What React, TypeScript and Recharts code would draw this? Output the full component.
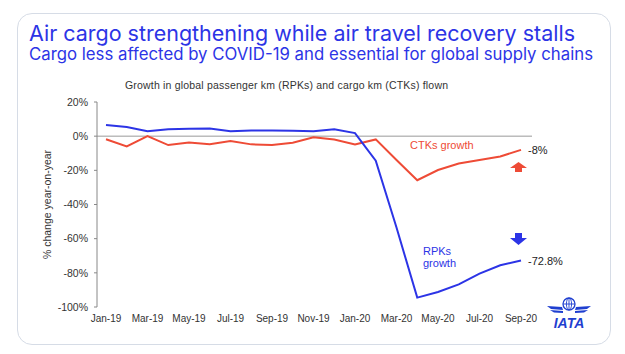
import { LineChart, Line, XAxis, YAxis, ReferenceLine, LabelList } from 'recharts';

const months = [
  'Jan-19', 'Feb-19', 'Mar-19', 'Apr-19', 'May-19', 'Jun-19', 'Jul-19', 'Aug-19', 'Sep-19', 'Oct-19', 'Nov-19', 'Dec-19',
  'Jan-20', 'Feb-20', 'Mar-20', 'Apr-20', 'May-20', 'Jun-20', 'Jul-20', 'Aug-20', 'Sep-20',
];
const rpkGrowth = [6.5, 5.3, 2.9, 4.1, 4.3, 4.5, 2.9, 3.3, 3.3, 3.1, 2.9, 4.1, 1.8, -14.3, -53.5, -94.5, -91.2, -86.8, -80.5, -75.6, -72.8];
const ctkGrowth = [-1.8, -6.0, 0.0, -5.2, -3.7, -4.7, -2.9, -4.8, -5.2, -3.8, -0.6, -2.0, -4.9, -1.9, -14.0, -25.8, -19.8, -16.0, -13.9, -11.9, -8.0];
const yTicks = [20, 0, -20, -40, -60, -80, -100];
const endLabels = { rpk: '-72.8%', ctk: '-8%' };

const data = months.map((m, i) => ({ month: m, rpk: rpkGrowth[i], ctk: ctkGrowth[i] }));

const BLUE = '#2c34e6';
const RED = '#ee4b36';
const FONT = '"Liberation Sans", Arial, sans-serif';

const endLabel = (text: string) => (props: any) => {
  const { x, y, index } = props;
  if (index !== data.length - 1) return null;
  return (
    <text x={x + 7} y={y + 4} fontSize={11} fill="#222" fontFamily={FONT}>
      {text}
    </text>
  );
};

export default function App() {
  return (
    <div style={{ position: 'absolute', left: 0, top: 0, width: 625, height: 354, background: '#fff', fontFamily: FONT }}>
      <div
        style={{
          position: 'absolute', left: 17, top: 13, width: 592, height: 330,
          border: '1px solid #d6dce6', borderRadius: 15,
        }}
      />
      <svg style={{ position: 'absolute', left: 0, top: 0 }} width={625} height={100}>
        <text x={29} y={41} fill={BLUE} fontFamily="Inter, sans-serif" fontSize={21.5} textLength={546} lengthAdjust="spacingAndGlyphs">
          Air cargo strengthening while air travel recovery stalls
        </text>
        <text x={29} y={60} fill={BLUE} fontFamily="Inter, sans-serif" fontSize={16.8} textLength={564} lengthAdjust="spacingAndGlyphs">
          Cargo less affected by COVID-19 and essential for global supply chains
        </text>
        <text x={125} y={89} fill="#333" fontFamily={FONT} fontSize={10.5} textLength={323}>
          Growth in global passenger km (RPKs) and cargo km (CTKs) flown
        </text>
      </svg>

      <div style={{ position: 'absolute', left: 0, top: 0 }}>
        <LineChart width={625} height={354} data={data} margin={{ top: 102, right: 93, bottom: 17, left: 37 }}>
          <XAxis
            dataKey="month"
            interval={1}
            axisLine={false}
            tickLine={false}
            padding={{ left: 9, right: 11 }}
            height={30}
            tick={{ fontSize: 10, fill: '#333', fontFamily: FONT }}
            tickMargin={2}
          />
          <YAxis
            domain={[-100, 20]}
            ticks={yTicks}
            width={60}
            tickFormatter={(v: number) => `${v}%`}
            axisLine={{ stroke: '#888' }}
            tickLine={{ stroke: '#888' }}
            tickSize={3}
            tickMargin={6}
            tick={{ fontSize: 10.5, fill: '#333', fontFamily: FONT }}
            label={{
              value: '% change year-on-year', angle: -90, position: 'insideLeft', offset: 10,
              style: { fontSize: 10.5, fill: '#333', fontFamily: FONT, textAnchor: 'middle' },
            }}
          />
          <ReferenceLine y={0} stroke="#999" />
          <Line type="linear" dataKey="ctk" stroke={RED} strokeWidth={2} dot={false} isAnimationActive={false}>
            <LabelList dataKey="ctk" content={endLabel(endLabels.ctk)} />
          </Line>
          <Line type="linear" dataKey="rpk" stroke={BLUE} strokeWidth={2} dot={false} isAnimationActive={false}>
            <LabelList dataKey="rpk" content={endLabel(endLabels.rpk)} />
          </Line>
        </LineChart>
      </div>

      <div style={{ position: 'absolute', left: 410, top: 139, color: RED, fontSize: 11, whiteSpace: 'nowrap' }}>CTKs growth</div>
      <div style={{ position: 'absolute', left: 423, top: 245, color: BLUE, fontSize: 11, lineHeight: '12px' }}>
        RPKs<br />growth
      </div>

      <svg style={{ position: 'absolute', left: 0, top: 0 }} width={625} height={354}>
        <polygon points="518.5,162 527,168 522,168 522,172 515,172 515,168 510,168" fill={RED} />
        <polygon points="515,233 522,233 522,238 527,238 518.5,245 510,238 515,238" fill={BLUE} />
        <g fill="#1f3fd0" stroke="none">
          <circle cx={569} cy={304} r={6} fill="none" stroke="#1f3fd0" strokeWidth={1.3} />
          <path d="M563,304 H575 M569,298 V310" stroke="#1f3fd0" strokeWidth={0.9} />
          <ellipse cx={569} cy={304} rx={2.6} ry={6} fill="none" stroke="#1f3fd0" strokeWidth={0.9} />
          <path d="M547,306 L562,307 L563,310 L551,309 Z" />
          <path d="M550,310 L563,311 L563,313 L554,312.5 Z" />
          <path d="M591,306 L576,307 L575,310 L587,309 Z" />
          <path d="M588,310 L575,311 L575,313 L584,312.5 Z" />
          <text x={569} y={328} textAnchor="middle" fontSize={14} fontWeight="bold" fontStyle="italic" fontFamily={FONT}>
            IATA
          </text>
        </g>
      </svg>
    </div>
  );
}
